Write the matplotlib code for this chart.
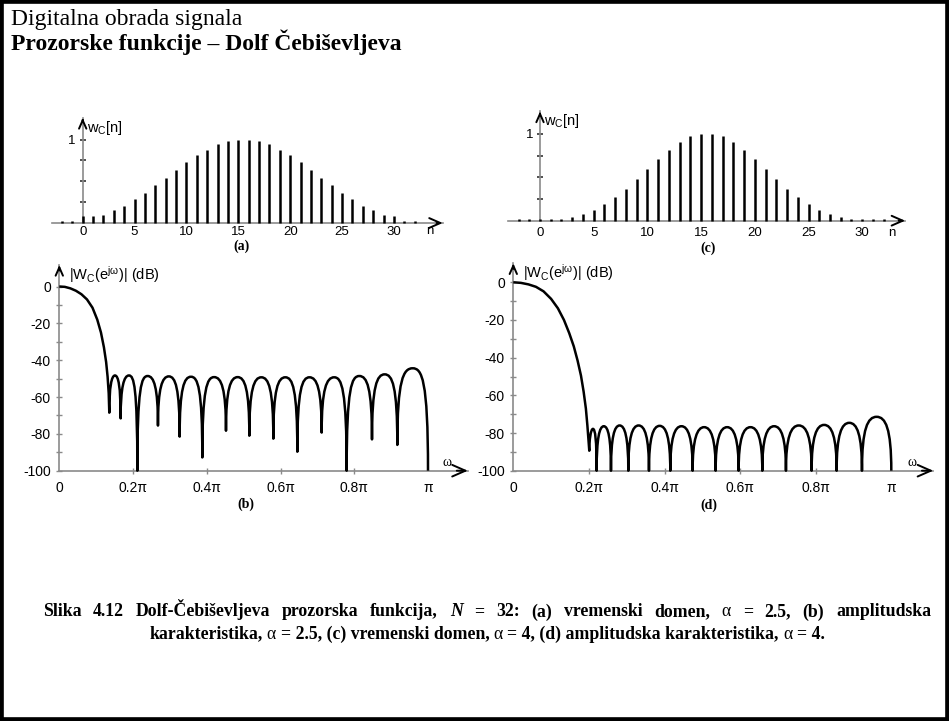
import numpy as np
import matplotlib
matplotlib.use('Agg')
import matplotlib.pyplot as plt
from matplotlib.path import Path
from matplotlib.patches import PathPatch, Rectangle
from matplotlib.offsetbox import TextArea, HPacker, AnchoredOffsetbox

plt.rcParams['font.family'] = ['Liberation Sans', 'DejaVu Sans']

W, H = 949, 721

# ---- data ----
n_idx = np.arange(-2, 33)

# (a) time domain, alpha = 2.5
w_a = [0.02, 0.02,
       0.087, 0.08, 0.09, 0.155, 0.205, 0.285, 0.36, 0.45, 0.54, 0.635,
       0.726, 0.81, 0.88, 0.944, 0.98, 1.0,
       1.0, 0.98, 0.944, 0.88, 0.81, 0.726, 0.635, 0.54, 0.45, 0.36,
       0.285, 0.205, 0.155, 0.09, 0.08,
       0.02, 0.02]

# (c) time domain, alpha = 4
w_c = [0.015, 0.015,
       0.015, 0.015, 0.018, 0.046, 0.08, 0.127, 0.19, 0.273, 0.369, 0.477,
       0.592, 0.71, 0.82, 0.908, 0.973, 1.0,
       1.0, 0.973, 0.908, 0.82, 0.71, 0.592, 0.477, 0.369, 0.273, 0.19,
       0.127, 0.08, 0.046, 0.018, 0.015,
       0.015, 0.015]

# (b) magnitude, alpha = 2.5 (frequency in units of pi, level in dB)
b_main_w = [0.0, 0.015, 0.03, 0.045, 0.06, 0.075, 0.09, 0.103, 0.113,
            0.121, 0.127, 0.131, 0.134]
b_main_db = [0.0, -0.2, -1.0, -2.3, -4.2, -7.0, -11.5, -18, -25,
             -33, -41, -49, -58]
b_null_w = [0.1356, 0.1664, 0.2116, 0.2676, 0.3264, 0.3879, 0.4521, 0.5154,
            0.5805, 0.6456, 0.7116, 0.7794, 0.8481, 0.9168, 1.0]
b_null_db = [-68.5, -71.6, -100, -75.5, -81.5, -92.8, -78.3, -81,
             -82.6, -89.7, -79.3, -100, -83, -86, -100]
b_peak_db = [-48.3, -48.3, -48.6, -48.8, -49.0, -49.2, -49.2, -49.3,
             -49.3, -49.3, -49.3, -48.6, -47.7, -44.4]

# (d) magnitude, alpha = 4
d_main_w = [0.0, 0.02, 0.04, 0.06, 0.08, 0.1, 0.118, 0.134, 0.148, 0.16,
            0.17, 0.179, 0.186, 0.192, 0.196, 0.199]
d_main_db = [0.0, -0.3, -1.1, -2.4, -4.8, -8.8, -13.8, -20, -27, -34,
             -41.5, -49.5, -58, -67, -76, -84]
d_null_w = [0.201, 0.2205, 0.2584, 0.3042, 0.3589, 0.4153, 0.4744, 0.5353,
            0.5961, 0.6587, 0.7213, 0.7892, 0.8554, 0.9224, 1.0]
d_null_db = [-89.4] + [-100] * 14
d_peak_db = [-77.8, -76.4, -76.0, -76.0, -76.2, -76.4, -76.9, -76.9,
             -76.9, -76.4, -76.0, -75.7, -74.6, -71.4]

n_ticks = [0, 5, 10, 15, 20, 25, 30]
w_ticks = [0, 0.2, 0.4, 0.6, 0.8, 1.0]
w_ticklabels = ['0', '0.2π', '0.4π', '0.6π', '0.8π', 'π']
db_ticks = [-100, -80, -60, -40, -20, 0]
db_minor = [-90, -70, -50, -30, -10]

AXIS_GRAY = '#8a8a8a'
SERIF = 'Liberation Serif'


def pixel_axes(fig, box, xref, yref):
    # box = (left, top, right, bottom) in pixels, refs = ((value, pixel), (value, pixel))
    l, t, r, b = box
    ax = fig.add_axes([l / W, 1 - b / H, (r - l) / W, (b - t) / H])
    (v0, p0), (v1, p1) = xref
    sx = (v1 - v0) / (p1 - p0)
    ax.set_xlim(v0 + (l - p0) * sx, v0 + (r - p0) * sx)
    (u0, q0), (u1, q1) = yref
    sy = (u1 - u0) / (q1 - q0)
    ax.set_ylim(u0 + (b - q0) * sy, u0 + (t - q0) * sy)
    ax.patch.set_visible(False)
    for s in ['top', 'right']:
        ax.spines[s].set_visible(False)
    for s in ['left', 'bottom']:
        ax.spines[s].set_color(AXIS_GRAY)
        ax.spines[s].set_linewidth(1.2)
    return ax


def arrow_head(ax, tip, back, scale):
    ax.annotate('', xy=tip, xytext=back,
                arrowprops=dict(arrowstyle='->,head_length=0.5,head_width=0.22',
                                color='black', lw=1.4, mutation_scale=scale,
                                shrinkA=0, shrinkB=0))


def stem_panel(fig, box, xref, yref, values, x_tip, y_tip, xpad, n_off):
    ax = pixel_axes(fig, box, xref, yref)
    ax.vlines(n_idx, 0, values, colors='black', lw=1.8, zorder=3)
    ax.spines['left'].set_position(('data', 0))
    ax.spines['left'].set_bounds(0, y_tip)
    ax.spines['bottom'].set_position(('data', 0))
    ax.spines['bottom'].set_bounds(-3, x_tip)
    ax.set_xticks(n_ticks)
    ax.tick_params(axis='x', length=0, pad=xpad, labelsize=9.5)
    ax.set_yticks([0.25, 0.5, 0.75, 1.0])
    ax.set_yticklabels(['', '', '', '1'])
    ax.tick_params(axis='y', direction='inout', length=4, width=1.1,
                   color='#222222', pad=3, labelsize=9.5)
    arrow_head(ax, (x_tip, 0), (x_tip - 0.6, 0), 16)
    arrow_head(ax, (0, y_tip), (0, y_tip - 0.05), 12)
    ax.annotate('w$_\\mathrm{C}$[n]', xy=(0, y_tip), xytext=(3, -7),
                textcoords='offset points', ha='left', va='center', fontsize=10.5)
    ax.annotate('n', xy=(x_tip, 0), xytext=n_off, textcoords='offset points',
                ha='center', va='center', fontsize=9.5)
    return ax


def response_path(main_w, main_db, null_w, null_db, peak_db):
    verts = list(zip(main_w, main_db)) + [(null_w[0], null_db[0])]
    codes = [Path.MOVETO] + [Path.LINETO] * (len(verts) - 1)
    for i, yp in enumerate(peak_db):
        x0, x1 = null_w[i], null_w[i + 1]
        xm = 0.5 * (x0 + x1)
        wd = x1 - x0
        verts += [(x0, yp - 6), (x0 + 0.2 * wd, yp), (xm, yp),
                  (x1 - 0.2 * wd, yp), (x1, yp - 6), (x1, null_db[i + 1])]
        codes += [Path.CURVE4] * 6
    return Path(verts, codes)


def response_panel(fig, box, xref, yref, path, x_tip, y_tip):
    ax = pixel_axes(fig, box, xref, yref)
    ax.add_patch(PathPatch(path, fill=False, ec='black', lw=1.8,
                           joinstyle='round', capstyle='butt', zorder=3))
    ax.spines['left'].set_position(('data', 0))
    ax.spines['left'].set_bounds(-100, y_tip)
    ax.spines['bottom'].set_position(('data', -100))
    ax.spines['bottom'].set_bounds(0, x_tip)
    ax.set_yticks(db_ticks)
    ax.set_yticklabels([str(v) for v in db_ticks])
    ax.set_yticks(db_minor, minor=True)
    ax.tick_params(axis='y', which='both', direction='inout', length=5,
                   width=1.0, color=AXIS_GRAY, pad=3.5, labelsize=10)
    ax.set_xticks(w_ticks)
    ax.set_xticklabels(w_ticklabels)
    ax.tick_params(axis='x', direction='inout', length=4.5, width=1.0,
                   color=AXIS_GRAY, pad=5.5, labelsize=10)
    xt = ax.xaxis.get_major_ticks()
    xt[0].tick1line.set_visible(False)
    xt[-1].tick1line.set_visible(False)
    arrow_head(ax, (x_tip, -100), (x_tip - 0.03, -100), 19)
    arrow_head(ax, (0, y_tip), (0, y_tip - 3), 12)
    ax.annotate('|W$_\\mathrm{C}$(e$^{\\mathrm{j\\omega}}$)| (dB)', xy=(0, y_tip),
                xytext=(7, -7), textcoords='offset points', ha='left',
                va='center', fontsize=10.5)
    ax.annotate('ω', xy=(x_tip, -100), xytext=(-15, 6),
                textcoords='offset points', ha='center', va='center',
                fontsize=10, family=SERIF)
    return ax


plt.rcParams['mathtext.fontset'] = 'custom'
plt.rcParams['mathtext.rm'] = 'Liberation Sans'
plt.rcParams['mathtext.it'] = 'Liberation Sans:italic'

fig = plt.figure(figsize=(W / 100, H / 100), dpi=100)

# slide frame
fig.patches.append(Rectangle((0, 0), 1, 1, transform=fig.transFigure,
                             fill=False, ec='black', lw=5.5))

fig.text(11 / W, 1 - 25 / H, 'Digitalna obrada signala', family=SERIF,
         fontsize=17, va='baseline', ha='left')
fig.text(11 / W, 1 - 50 / H, 'Prozorske funkcije – Dolf Čebiševljeva',
         family=SERIF, fontsize=17, weight='bold', va='baseline', ha='left')

# (a)
stem_panel(fig, (30, 100, 458, 240), ((0, 82.7), (30, 394.0)), ((0, 223.0), (1, 139.6)),
           w_a, 34.7, 1.26, 2, (-9.5, -6))
# (c)
stem_panel(fig, (495, 95, 915, 240), ((0, 540.0), (30, 862.2)), ((0, 220.7), (1, 134.0)),
           w_c, 34.0, 1.26, 4.5, (-9.5, -8.5))

# (b)
response_panel(fig, (20, 255, 478, 500), ((0, 59.3), (1, 428.0)), ((0, 286.5), (-100, 470.7)),
               response_path(b_main_w, b_main_db, b_null_w, b_null_db, b_peak_db),
               1.108, 11.7)
# (d)
response_panel(fig, (478, 255, 945, 500), ((0, 513.3), (1, 891.3)), ((0, 282.3), (-100, 470.7)),
               response_path(d_main_w, d_main_db, d_null_w, d_null_db, d_peak_db),
               1.111, 10.1)

for lab, x, y in [('(a)', 241, 246), ('(b)', 246, 504), ('(c)', 708, 248), ('(d)', 709, 505)]:
    fig.text(x / W, 1 - y / H, lab, family=SERIF, weight='bold', fontsize=10,
             ha='center', va='center')

# caption with mixed styles; the first line is justified (wider word gaps)
cap_fs = 12.8
bold = dict(family=SERIF, weight='bold', size=cap_fs)
boldit = dict(family=SERIF, weight='bold', style='italic', size=cap_fs)
reg = dict(family=SERIF, size=cap_fs)
cap1 = [('Slika', bold), ('4.12', bold), ('Dolf-Čebiševljeva', bold), ('prozorska', bold),
        ('funkcija,', bold), ('N', boldit), ('=', bold), ('32:', bold), ('(a)', bold),
        ('vremenski', bold), ('domen,', bold), ('α', reg), ('=', bold), ('2.5,', bold),
        ('(b)', bold), ('amplitudska', bold)]
cap2 = [('karakteristika,', bold), ('α', reg), ('= 2.5, (c) vremenski domen,', bold),
        ('α', reg), ('= 4, (d) amplitudska karakteristika,', bold), ('α', reg),
        ('= 4.', bold)]
for pieces, y, gap in [(cap1, 610, 8.4), (cap2, 634, 0.25 * cap_fs)]:
    box = HPacker(children=[TextArea(s, textprops=p) for s, p in pieces],
                  align='baseline', pad=0, sep=gap)
    anch = AnchoredOffsetbox(loc='center', child=box, pad=0, borderpad=0,
                             frameon=False, bbox_to_anchor=(487 / W, 1 - y / H),
                             bbox_transform=fig.transFigure)
    fig.add_artist(anch)

fig.savefig('out.png', dpi=100)
